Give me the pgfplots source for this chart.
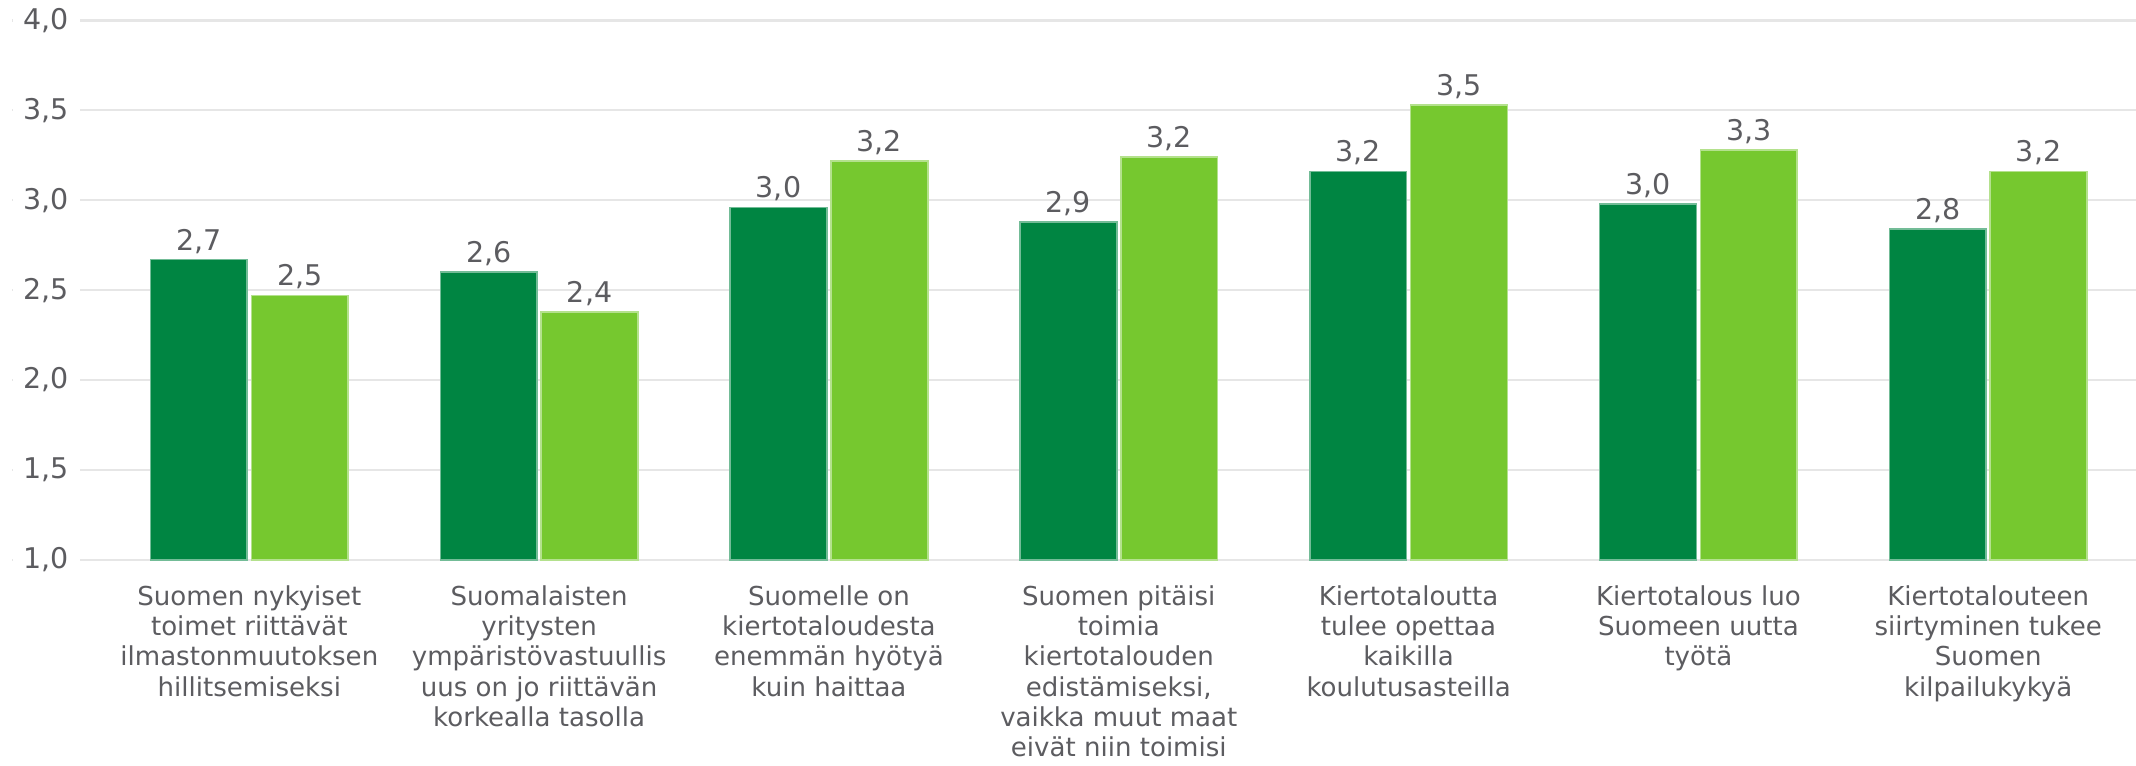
\documentclass[border=0pt]{standalone}
\usepackage{fontspec}
\setmainfont{DejaVu Sans}
\usepackage{pgfplots}
\pgfplotsset{compat=1.18}
\definecolor{darkg}{RGB}{0,133,66}
\definecolor{lightg}{RGB}{118,200,47}
\definecolor{gridc}{RGB}{230,230,230}
\definecolor{txt}{RGB}{92,92,96}
\begin{document}
\begin{tikzpicture}
\begin{axis}[
  name=ax,
  scale only axis,
  width=779.5bp, height=198bp,
  xmin=-0.818, xmax=6.51,
  ymin=1, ymax=4,
  ytick={1,1.5,2,2.5,3,3.5,4},
  xtick={0,1,2,3,4,5,6},
  axis line style={draw=none},
  major tick length=0pt,
  ymajorgrids, grid style={gridc, line width=0.8bp},
  ybar,
  bar width=0.334,
  /pgf/number format/.cd, fixed, fixed zerofill, precision=1, use comma, assume math mode=true,
  /pgfplots/.cd,
  yticklabel style={anchor=east, xshift=25bp, fill=white, inner xsep=4bp, inner ysep=1bp, font=\fontsize{10.5}{12}\selectfont, text=txt},
  xticklabel style={align=center, anchor=north, yshift=-6bp, font=\fontsize{9.6}{11.1}\selectfont, text=txt},
  xticklabels={
    {Suomen nykyiset\\toimet riittävät\\ilmastonmuutoksen\\hillitsemiseksi},
    {Suomalaisten\\yritysten\\ympäristövastuullis\\uus on jo riittävän\\korkealla tasolla},
    {Suomelle on\\kiertotaloudesta\\enemmän hyötyä\\kuin haittaa},
    {Suomen pitäisi\\toimia\\kiertotalouden\\edistämiseksi,\\vaikka muut maat\\eivät niin toimisi},
    {Kiertotaloutta\\tulee opettaa\\kaikilla\\koulutusasteilla},
    {Kiertotalous luo\\Suomeen uutta\\työtä},
    {Kiertotalouteen\\siirtyminen tukee\\Suomen\\kilpailukykyä}
  },
  nodes near coords,
  nodes near coords style={font=\fontsize{10.5}{12}\selectfont, text=txt, inner sep=2bp, /pgf/number format/.cd, fixed, fixed zerofill, precision=1, use comma, assume math mode=true},
  clip=false,
]
\addplot[fill=darkg, draw=darkg!55!white, line width=0.6bp, bar shift=-0.174] coordinates {
  (0,2.67) (1,2.60) (2,2.96) (3,2.88) (4,3.16) (5,2.98) (6,2.84)
};
\addplot[fill=lightg, draw=lightg!55!white, line width=0.6bp, bar shift=0.174] coordinates {
  (0,2.47) (1,2.38) (2,3.22) (3,3.24) (4,3.53) (5,3.28) (6,3.16)
};
\end{axis}
\pgfresetboundingbox
\path[use as bounding box] ([xshift=-4.5bp,yshift=-75.5bp]ax.south west) rectangle ([yshift=7.5bp]ax.north east);
\end{tikzpicture}
\end{document}
